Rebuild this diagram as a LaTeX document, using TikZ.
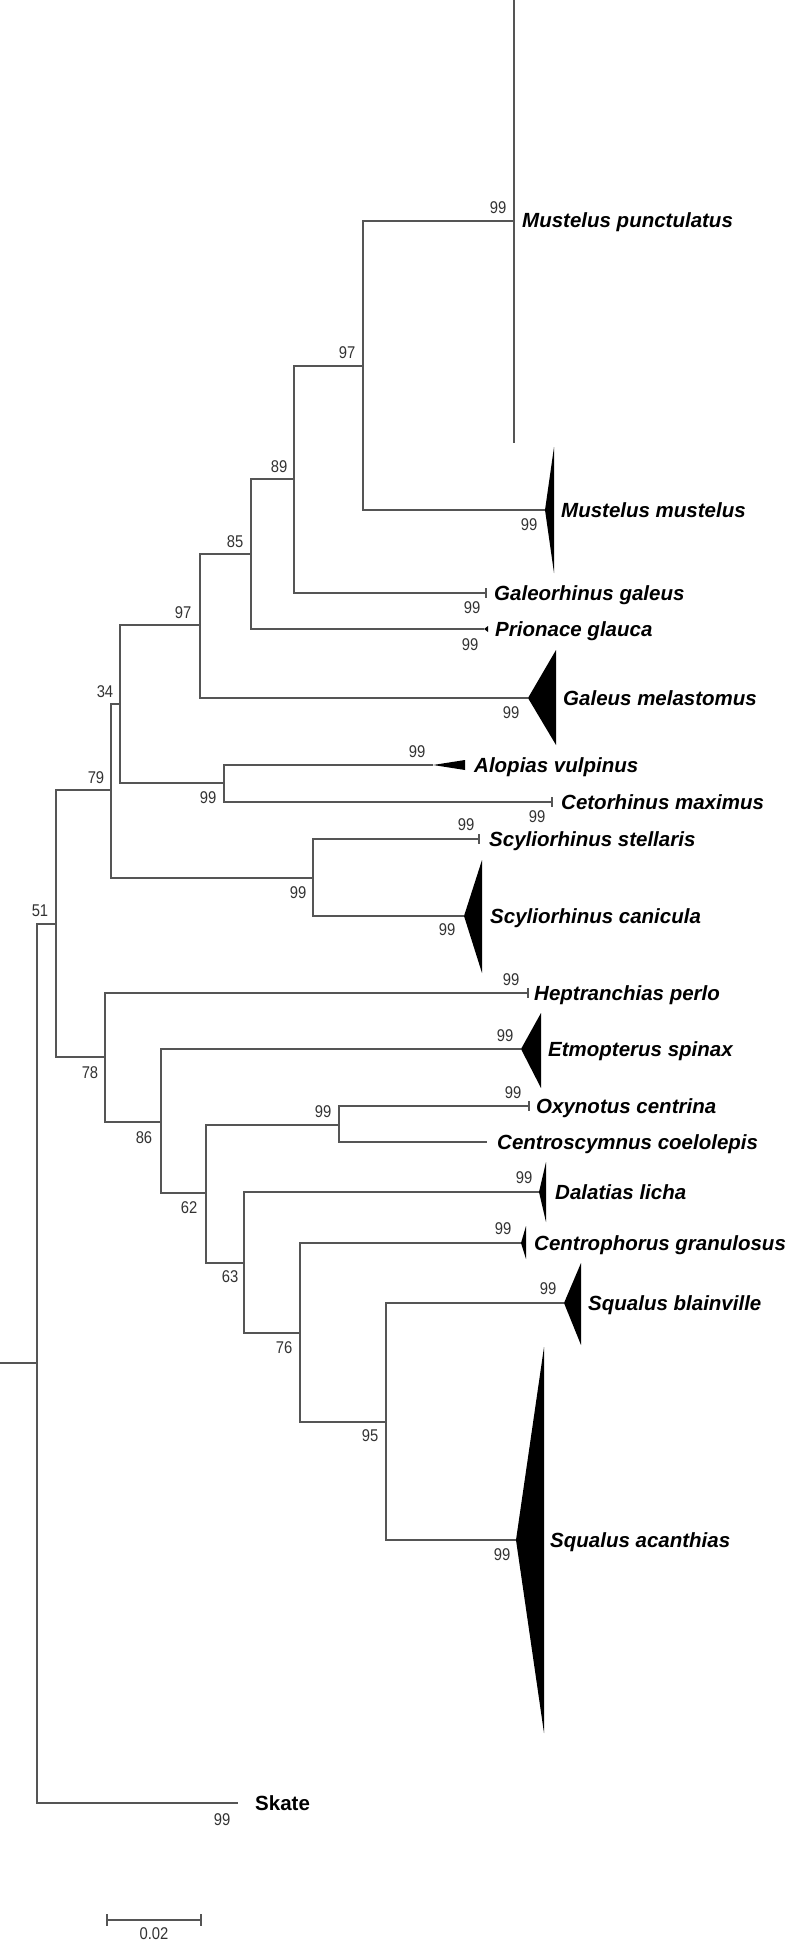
\documentclass[tikz,border=0pt]{standalone}
\usepackage{fontspec}
\setmainfont{Liberation Sans}
\definecolor{lc}{RGB}{85,85,85}
\definecolor{bsc}{RGB}{50,50,50}
\begin{document}
\begin{tikzpicture}[x=1pt,y=-1pt,
  br/.style={draw=lc, line width=1.3pt},
  sp/.style={anchor=base west, inner sep=0pt, font=\fontsize{20.5}{22}\selectfont\bfseries\itshape},
  bs/.style={inner sep=0pt, font=\fontsize{17}{17}\selectfont, text=bsc},
  tri/.style={fill=black, draw=none}]
\useasboundingbox (0,0) rectangle (789,1942);
\newcommand{\bsn}[1]{\scalebox{0.87}[1]{#1}}
% ---------- coordinates (internal nodes and tips)
\coordinate (r0) at (0,1363);
\coordinate (rt) at (37,1363);
\coordinate (n51) at (56,924);
\coordinate (n79) at (111,790);
\coordinate (n78) at (105,1057);
\coordinate (n34) at (120,704);
\coordinate (nScy) at (313,878);
\coordinate (n97b) at (200,625);
\coordinate (nAC) at (224,783);
\coordinate (n85) at (251,554);
\coordinate (tGmel) at (528,698);
\coordinate (n89) at (294,479);
\coordinate (tPri) at (484,629);
\coordinate (n97a) at (363,366);
\coordinate (tGal) at (486,593);
\coordinate (nMp) at (514,221);
\coordinate (mpTop) at (514,0);
\coordinate (mpBot) at (514,443);
\coordinate (tMm) at (545,510);
\coordinate (tAlo) at (433,765);
\coordinate (tCet) at (552,802);
\coordinate (tSst) at (479,839);
\coordinate (tSca) at (464,916);
\coordinate (tHep) at (528,993);
\coordinate (n86) at (161,1122);
\coordinate (tEtm) at (521,1049);
\coordinate (n62) at (206,1193);
\coordinate (nOC) at (339,1125);
\coordinate (tOxy) at (529,1106);
\coordinate (tCen) at (487,1142);
\coordinate (n63) at (244,1263);
\coordinate (tDal) at (539,1192);
\coordinate (n76) at (300,1333);
\coordinate (tCgr) at (521,1243);
\coordinate (n95) at (386,1422);
\coordinate (tSbl) at (564,1303);
\coordinate (tSac) at (516,1540);
\coordinate (tSk) at (238,1803);
\coordinate (sb1) at (107,1920);
\coordinate (sb2) at (201,1920);
% ---------- branches
\draw[br] (r0) -- (rt);
\draw[br] (rt) |- (n51);
\draw[br] (rt) |- (tSk);
\draw[br] (n51) |- (n79);
\draw[br] (n51) |- (n78);
\draw[br] (n79) |- (n34);
\draw[br] (n79) |- (nScy);
\draw[br] (n34) |- (n97b);
\draw[br] (n34) |- (nAC);
\draw[br] (n97b) |- (n85);
\draw[br] (n97b) |- (tGmel);
\draw[br] (n85) |- (n89);
\draw[br] (n85) |- (tPri);
\draw[br] (n89) |- (n97a);
\draw[br] (n89) |- (tGal);
\draw[br] (n97a) |- (nMp);
\draw[br] (n97a) |- (tMm);
\draw[br] (mpTop) -- (mpBot);
\draw[br] (nAC) |- (tAlo);
\draw[br] (nAC) |- (tCet);
\draw[br] (nScy) |- (tSst);
\draw[br] (nScy) |- (tSca);
\draw[br] (n78) |- (tHep);
\draw[br] (n78) |- (n86);
\draw[br] (n86) |- (tEtm);
\draw[br] (n86) |- (n62);
\draw[br] (n62) |- (nOC);
\draw[br] (nOC) |- (tOxy);
\draw[br] (nOC) |- (tCen);
\draw[br] (n62) |- (n63);
\draw[br] (n63) |- (tDal);
\draw[br] (n63) |- (n76);
\draw[br] (n76) |- (tCgr);
\draw[br] (n76) |- (n95);
\draw[br] (n95) |- (tSbl);
\draw[br] (n95) |- (tSac);
% ---------- tip ticks
\foreach \t in {tGal,tCet,tSst,tHep,tOxy}
  \draw[br] ([yshift=5pt]\t) -- ([yshift=-5pt]\t);
% ---------- collapsed clades
\fill[tri] (tMm) -- (554,447) -- (554,573) -- cycle;
\fill[tri] (tPri) -- (488,626) -- (488,632) -- cycle;
\fill[tri] (tGmel) -- (556,650) -- (556,745) -- cycle;
\fill[tri] (tAlo) -- (465,760) -- (465,770) -- cycle;
\fill[tri] (tSca) -- (482,860) -- (482,973) -- cycle;
\fill[tri] (tEtm) -- (541,1013) -- (541,1088) -- cycle;
\fill[tri] (tDal) -- (546,1162) -- (546,1222) -- cycle;
\fill[tri] (tCgr) -- (526,1226) -- (526,1259) -- cycle;
\fill[tri] (tSbl) -- (581,1263) -- (581,1345) -- cycle;
\fill[tri] (tSac) -- (544,1347) -- (544,1733) -- cycle;
% ---------- species labels
\node[sp] (lMp) at (522,228) {Mustelus punctulatus};
\node[sp] (lMm) at (561,517) {Mustelus mustelus};
\node[sp] (lGal) at (494,600) {Galeorhinus galeus};
\node[sp] (lPri) at (495,636) {Prionace glauca};
\node[sp] (lGmel) at (563,705) {Galeus melastomus};
\node[sp] (lAlo) at (474,772) {Alopias vulpinus};
\node[sp] (lCet) at (561,809) {Cetorhinus maximus};
\node[sp] (lSst) at (489,846) {Scyliorhinus stellaris};
\node[sp] (lSca) at (490,923) {Scyliorhinus canicula};
\node[sp] (lHep) at (534,1000) {Heptranchias perlo};
\node[sp] (lEtm) at (548,1056) {Etmopterus spinax};
\node[sp] (lOxy) at (536,1113) {Oxynotus centrina};
\node[sp] (lCen) at (497,1149) {Centroscymnus coelolepis};
\node[sp] (lDal) at (555,1199) {Dalatias licha};
\node[sp] (lCgr) at (534,1250) {Centrophorus granulosus};
\node[sp] (lSbl) at (588,1310) {Squalus blainville};
\node[sp] (lSac) at (550,1547) {Squalus acanthias};
\node[sp, font=\fontsize{20.5}{22}\selectfont\bfseries] (lSk) at (255,1810) {Skate};
% ---------- bootstrap values
\node[bs] (b1) at (498,208) {\bsn{99}};
\node[bs] (b2) at (347,353) {\bsn{97}};
\node[bs] (b3) at (529,525) {\bsn{99}};
\node[bs] (b4) at (279,467) {\bsn{89}};
\node[bs] (b5) at (472,608) {\bsn{99}};
\node[bs] (b6) at (235,542) {\bsn{85}};
\node[bs] (b7) at (470,645) {\bsn{99}};
\node[bs] (b8) at (183,613) {\bsn{97}};
\node[bs] (b9) at (511,713) {\bsn{99}};
\node[bs] (b10) at (105,692) {\bsn{34}};
\node[bs] (b11) at (417,752) {\bsn{99}};
\node[bs] (b12) at (208,798) {\bsn{99}};
\node[bs] (b13) at (96,778) {\bsn{79}};
\node[bs] (b14) at (537,817) {\bsn{99}};
\node[bs] (b15) at (466,825) {\bsn{99}};
\node[bs] (b16) at (298,893) {\bsn{99}};
\node[bs] (b17) at (447,930) {\bsn{99}};
\node[bs] (b18) at (40,911) {\bsn{51}};
\node[bs] (b19) at (511,980) {\bsn{99}};
\node[bs] (b20) at (505,1036) {\bsn{99}};
\node[bs] (b21) at (90,1073) {\bsn{78}};
\node[bs] (b22) at (513,1093) {\bsn{99}};
\node[bs] (b23) at (323,1112) {\bsn{99}};
\node[bs] (b24) at (144,1138) {\bsn{86}};
\node[bs] (b25) at (524,1178) {\bsn{99}};
\node[bs] (b26) at (189,1208) {\bsn{62}};
\node[bs] (b27) at (503,1229) {\bsn{99}};
\node[bs] (b28) at (230,1277) {\bsn{63}};
\node[bs] (b29) at (548,1289) {\bsn{99}};
\node[bs] (b30) at (284,1348) {\bsn{76}};
\node[bs] (b31) at (370,1436) {\bsn{95}};
\node[bs] (b32) at (502,1555) {\bsn{99}};
\node[bs] (b33) at (222,1820) {\bsn{99}};
% ---------- scale bar
\draw[br] (sb1) -- (sb2);
\draw[br] ([yshift=6pt]sb1) -- ([yshift=-6pt]sb1);
\draw[br] ([yshift=6pt]sb2) -- ([yshift=-6pt]sb2);
\node[bs] (sbl) at (154,1934) {\bsn{0.02}};
\end{tikzpicture}
\end{document}
